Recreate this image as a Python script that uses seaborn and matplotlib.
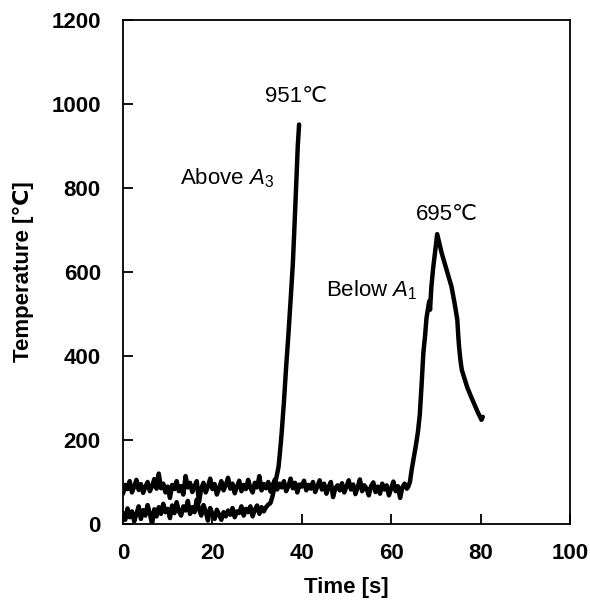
import numpy as np
import pandas as pd
import seaborn as sns
import matplotlib.pyplot as plt

# ---- data ----
# "Above A3" run: baseline sampled every 0.5 s from 0 to 32.5 s, then heating ramp
above_base_T = [26, 10, 37, 16, 30, 6, 24, 42, 12, 33, 20, 45, 25, 0, 35, 18,
                40, 24, 48, 28, 36, 14, 44, 26, 52, 30, 20, 42, 32, 55, 24, 40,
                28, 58, 36, 20, 45, 30, 8, 38, 24, 12, 34, 22, 10, 28, 18, 32,
                22, 38, 16, 30, 26, 42, 20, 36, 28, 42, 18, 34, 44, 24, 40, 30,
                40, 46]
above_ramp_t = [33.0, 33.5, 34.0, 34.5, 34.8, 35.2, 35.5, 36.0, 36.5, 37.0,
                37.5, 38.0, 38.3, 38.8, 39.1, 39.4]
above_ramp_T = [50, 68, 95, 120, 136, 180, 217, 290, 374, 450,
                533, 620, 693, 820, 900, 951]

# "Below A1" run: baseline sampled every 0.5 s from 0 to 63.5 s, then heat/cool
below_base_T = [72, 93, 83, 102, 75, 89, 105, 81, 95, 74, 88, 100, 78, 90, 107, 84,
                120, 85, 96, 75, 89, 62, 93, 83, 102, 78, 90, 70, 114, 87, 98, 76,
                90, 102, 52, 84, 98, 75, 89, 108, 83, 95, 70, 85, 102, 80, 93, 110,
                84, 96, 73, 89, 103, 78, 93, 83, 105, 86, 75, 98, 87, 114, 80, 95,
                85, 100, 77, 93, 106, 82, 96, 87, 102, 78, 90, 108, 85, 98, 75, 94,
                89, 103, 80, 93, 84, 100, 76, 90, 104, 82, 96, 72, 88, 100, 64, 85,
                92, 80, 97, 75, 89, 104, 82, 94, 71, 87, 106, 78, 92, 84, 68, 90,
                99, 76, 89, 72, 96, 82, 92, 68, 85, 101, 78, 90, 62, 87, 96, 84]
below_ramp_t = [63.8, 64.2, 64.6, 65.0, 65.5, 66.0, 66.4, 66.8, 67.2, 67.6,
                67.9, 68.2, 68.5, 68.7, 69.0, 69.4, 69.8, 70.3, 71.3, 72.4,
                73.5, 74.2, 74.8, 75.0, 75.2, 75.5, 75.8, 76.3, 77.0, 77.8,
                78.5, 79.3, 80.2, 80.5]
below_ramp_T = [88, 100, 130, 155, 185, 220, 260, 330, 407, 450,
                490, 510, 530, 510, 565, 610, 645, 690, 645, 605,
                565, 525, 486, 450, 421, 390, 367, 350, 326, 305,
                288, 268, 248, 255]

x_ticks = [0, 20, 40, 60, 80, 100]
y_ticks = [0, 200, 400, 600, 800, 1000, 1200]

# ---- build tables ----
above_t = list(np.arange(len(above_base_T)) * 0.5) + above_ramp_t
above_T = above_base_T + above_ramp_T
below_t = list(np.arange(len(below_base_T)) * 0.5) + below_ramp_t
below_T = below_base_T + below_ramp_T
df_above = pd.DataFrame({"Time": above_t, "Temp": above_T})
df_below = pd.DataFrame({"Time": below_t, "Temp": below_T})

# ---- style ----
sns.set_style("ticks")
plt.rcParams['font.family'] = ['Liberation Sans', 'DejaVu Sans']
plt.rcParams['mathtext.fontset'] = 'custom'
plt.rcParams['mathtext.rm'] = 'Liberation Sans'
plt.rcParams['mathtext.it'] = 'Liberation Sans:italic'
plt.rcParams['text.color'] = 'black'
plt.rcParams['axes.labelcolor'] = 'black'

fig = plt.figure(figsize=(5.9, 6.04), dpi=100)
ax = fig.add_axes([0.2085, 0.1325, 0.7575, 0.8345])

sns.lineplot(data=df_below, x="Time", y="Temp", sort=False, estimator=None,
             color="black", lw=3.2, ax=ax)
sns.lineplot(data=df_above, x="Time", y="Temp", sort=False, estimator=None,
             color="black", lw=3.2, ax=ax)

ax.set_xlim(0, 100)
ax.set_ylim(0, 1200)
ax.set_xticks(x_ticks)
ax.set_yticks(y_ticks)
ax.set_xticklabels([str(v) for v in x_ticks], fontweight='bold')
ax.set_yticklabels([str(v) for v in y_ticks], fontweight='bold')
ax.tick_params(direction='in', length=7, width=1.3, labelsize=16,
               colors='black', labelcolor='black')
ax.tick_params(axis='y', pad=16)
ax.tick_params(axis='x', pad=14)
for s in ax.spines.values():
    s.set_visible(True)
    s.set_linewidth(1.3)
    s.set_color('black')

ax.set_xlabel("Time [s]", fontsize=16, fontweight='bold', color='black')
ax.set_ylabel("Temperature [℃]", fontsize=16, fontweight='bold', color='black')
ax.xaxis.set_label_coords(0.5, -0.105)
ax.yaxis.set_label_coords(-0.199, 0.5)

ax.text(38.8, 1017, "951℃", ha='center', va='center', fontsize=16, color='black')
ax.text(72.4, 736, "695℃", ha='center', va='center', fontsize=16, color='black')
ax.text(12.7, 824, r"Above $A_3$", ha='left', va='center', fontsize=16, color='black')
ax.text(45.4, 557, r"Below $A_1$", ha='left', va='center', fontsize=16, color='black')

fig.savefig("out.png", dpi=100)
